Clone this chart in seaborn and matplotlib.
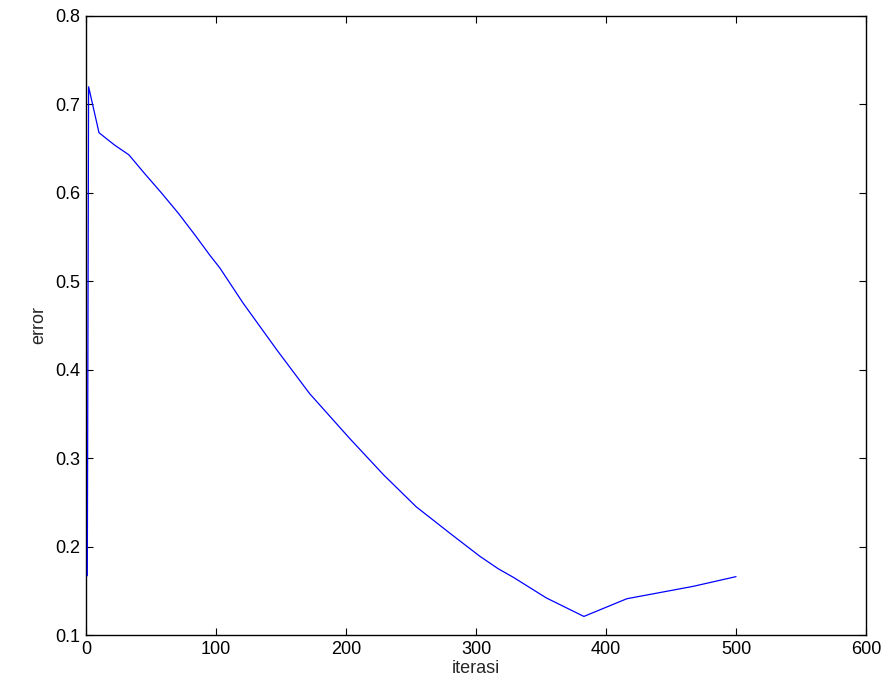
import matplotlib
matplotlib.use("Agg")
import matplotlib.pyplot as plt
import seaborn as sns
import pandas as pd

iterasi = [1, 2, 10, 22, 33, 45, 58, 71, 84, 95, 103, 121, 147, 172, 203, 229, 254,
           280, 303, 317, 329, 354, 383, 416, 467, 500]
error = [0.167, 0.720, 0.668, 0.654, 0.643, 0.622, 0.600, 0.577, 0.552, 0.530, 0.515,
         0.475, 0.422, 0.373, 0.322, 0.281, 0.245, 0.215, 0.189, 0.175, 0.165, 0.142,
         0.121, 0.141, 0.155, 0.166]
xticks = [0, 100, 200, 300, 400, 500, 600]
yticks = [0.1, 0.2, 0.3, 0.4, 0.5, 0.6, 0.7, 0.8]

df = pd.DataFrame({"iterasi": iterasi, "error": error})

sns.set_style("ticks")
plt.rcParams["font.family"] = ["Liberation Sans", "DejaVu Sans"]

fig = plt.figure(figsize=(8.91, 7.0), dpi=100)
ax = fig.add_axes([86 / 891, 65 / 700, 780 / 891, 619 / 700])
sns.lineplot(data=df, x="iterasi", y="error", ax=ax, color="#0000ff",
             linewidth=0.9, sort=False, estimator=None, zorder=3)
ax.set_xlim(0, 600)
ax.set_ylim(0.1, 0.8)
ax.set_xticks(xticks)
ax.set_yticks(yticks)
ax.set_xticklabels([str(t) for t in xticks])
ax.set_yticklabels([f"{t:.1f}" for t in yticks])
ax.tick_params(direction="in", length=5, width=0.8, labelsize=13,
               top=True, right=True, colors="black", pad=4)
for s in ax.spines.values():
    s.set_visible(True)
    s.set_linewidth(1.0)
    s.set_color("black")
ax.set_xlabel("iterasi", fontsize=13, labelpad=2)
ax.set_ylabel("error", fontsize=13, labelpad=6)
fig.savefig("out.png", dpi=100, facecolor="white")
